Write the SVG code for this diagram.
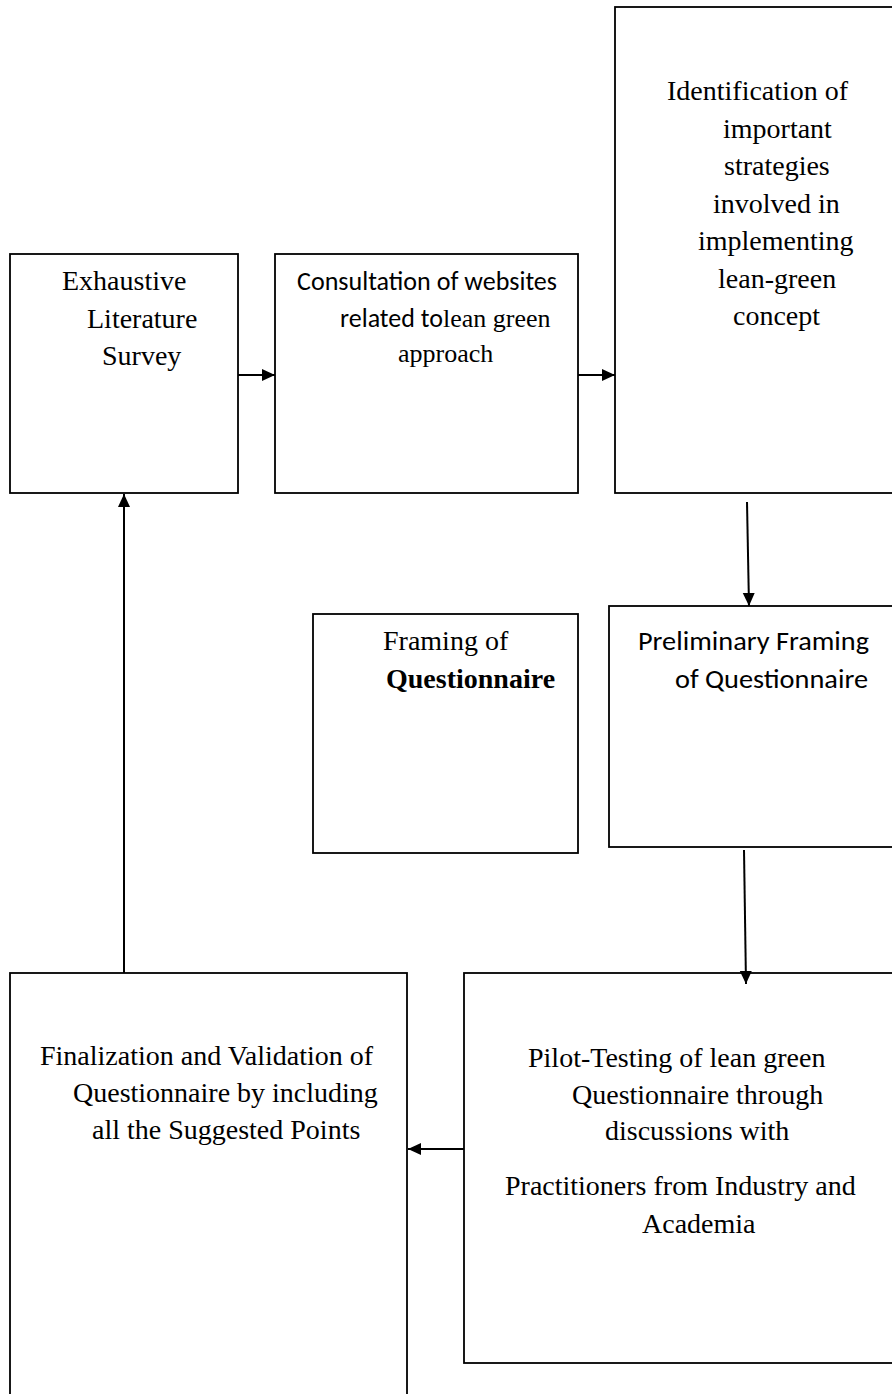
<svg xmlns="http://www.w3.org/2000/svg" width="892" height="1394" viewBox="0 0 892 1394">
<style>
.box{fill:#fff;stroke:#000;stroke-width:1.8}
.s{font-family:"Liberation Serif","Times New Roman",serif;font-size:28px;fill:#000}
.s26{font-size:26px}
.c{font-family:Carlito,Lato,"Open Sans",sans-serif;font-size:26px;fill:#000}
.b{font-weight:bold}
.ln{stroke:#000;stroke-width:2;fill:none;marker-end:url(#ah)}
</style>
<defs>
<marker id="ah" viewBox="0 0 13 13" refX="13" refY="6.5" markerWidth="13" markerHeight="13" markerUnits="userSpaceOnUse" orient="auto"><path d="M0,0.5 L13,6.5 L0,12.5 z" fill="#000"/></marker>
</defs>
<rect width="892" height="1394" fill="#fff"/>
<g id="n1">
<rect class="box" x="10" y="254" width="228" height="239"/>
<text class="s" x="62" y="290">Exhaustive</text>
<text class="s" x="87" y="328">Literature</text>
<text class="s" x="102" y="365">Survey</text>
</g>
<g id="n2">
<rect class="box" x="275" y="254" width="303" height="239"/>
<text class="c" x="297" y="290" textLength="260" lengthAdjust="spacingAndGlyphs">Consultation of websites</text>
<text x="340" y="327"><tspan class="c">related to</tspan><tspan class="s s26">lean green</tspan></text>
<text class="s s26" x="398" y="362">approach</text>
</g>
<g id="n3">
<rect class="box" x="615" y="7" width="300" height="486"/>
<text class="s" x="667" y="100">Identification of</text>
<text class="s" x="723" y="138">important</text>
<text class="s" x="724" y="175">strategies</text>
<text class="s" x="713" y="213">involved in</text>
<text class="s" x="698" y="250">implementing</text>
<text class="s" x="718" y="288">lean-green</text>
<text class="s" x="733" y="325">concept</text>
</g>
<g id="n4">
<rect class="box" x="313" y="614" width="265" height="239"/>
<text class="s" x="383" y="650">Framing of</text>
<text class="s b" x="386" y="688">Questionnaire</text>
</g>
<g id="n5">
<rect class="box" x="609" y="606" width="300" height="241"/>
<text class="c" x="638" y="650" textLength="231" lengthAdjust="spacingAndGlyphs">Preliminary Framing</text>
<text class="c" x="675" y="688" textLength="193" lengthAdjust="spacingAndGlyphs">of Questionnaire</text>
</g>
<g id="n6">
<rect class="box" x="10" y="973" width="397" height="440"/>
<text class="s" x="40" y="1065">Finalization and Validation of</text>
<text class="s" x="73" y="1102">Questionnaire by including</text>
<text class="s" x="92" y="1139">all the Suggested Points</text>
</g>
<g id="n7">
<rect class="box" x="464" y="973" width="450" height="390"/>
<text class="s" x="528" y="1067">Pilot-Testing of lean green</text>
<text class="s" x="572" y="1104">Questionnaire through</text>
<text class="s" x="605" y="1140">discussions with</text>
<text class="s" x="505" y="1195">Practitioners from Industry and</text>
<text class="s" x="642" y="1233">Academia</text>
</g>
<g id="connectors">
<line class="ln" x1="238" y1="375" x2="275" y2="375"/>
<line class="ln" x1="578" y1="375" x2="615" y2="375"/>
<line class="ln" x1="747" y1="502" x2="749" y2="606"/>
<line class="ln" x1="744" y1="850" x2="746" y2="984"/>
<line class="ln" x1="464" y1="1149" x2="408" y2="1149"/>
<line class="ln" x1="124" y1="973" x2="124" y2="494"/>
</g>
</svg>
